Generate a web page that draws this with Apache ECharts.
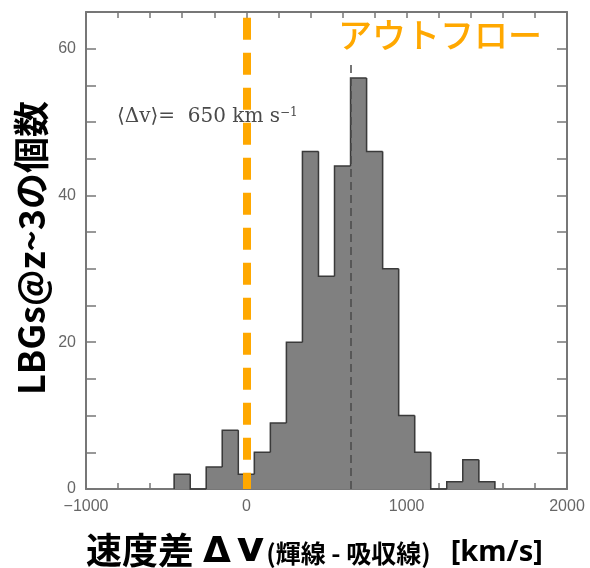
<!DOCTYPE html>
<html><head><meta charset="utf-8">
<script src="https://cdn.jsdelivr.net/npm/echarts@6/dist/echarts.min.js"></script>
<style>html,body{margin:0;padding:0;background:#fff}#c{width:590px;height:568px}</style>
</head><body><div id="c"></div>
<script>
// ---- data ----
const binCenters = [-400,-300,-200,-100,0,100,200,300,400,500,600,700,800,900,1000,1100,1200,1300,1400,1500];
const counts     = [2,0,3,8,2,5,9,20,46,29,44,56,46,30,10,5,0,1,4,1];
const binWidth = 100;
const meanValue = 650;
const meanLineTop = 58;
const zeroLineX = 0;
const xTickLabels = [-1000, 0, 1000, 2000];
const yTickLabels = [0, 20, 40, 60];
const yAxisTitle = 'LBGs@z~3の個数';
const xAxisTitleMain = '速度差';
const xAxisTitleDelta = 'Δ';
const xAxisTitleV = 'v';
const xAxisTitleSub = '(輝線 - 吸収線)';
const xAxisTitleUnit = '[km/s]';
const outflowLabel = 'アウトフロー';

const chart = echarts.init(document.getElementById('c'), null, {renderer:'canvas'});
const frame = '#777';
const labelFont = {color:'#666', fontSize:16, fontFamily:'Liberation Sans'};

function fmtX(v){ return xTickLabels.indexOf(v) >= 0 ? String(v).replace('-', '\u2212') : ''; }
function fmtY(v){ return yTickLabels.indexOf(v) >= 0 ? String(v) : ''; }

const histData = binCenters.map((c,i)=>[c, counts[i]]);

chart.setOption({
  animation:false,
  grid:{left:86, right:23, top:12, bottom:79, show:false},
  xAxis:[
    {type:'value', min:-1000, max:2000, interval:200, position:'bottom',
     axisLine:{show:true, onZero:false, lineStyle:{color:frame, width:2}},
     axisTick:{show:true, inside:true, length:6, lineStyle:{color:frame, width:1.5}},
     axisLabel:Object.assign({formatter:fmtX, margin:10, showMinLabel:true, showMaxLabel:true}, labelFont),
     splitLine:{show:false}},
    {type:'value', min:-1000, max:2000, interval:200, position:'top',
     axisLine:{show:true, onZero:false, lineStyle:{color:frame, width:2}},
     axisTick:{show:true, inside:true, length:6, lineStyle:{color:frame, width:1.5}},
     axisLabel:{show:false}, splitLine:{show:false}}
  ],
  yAxis:[
    {type:'value', min:0, max:65, interval:5, position:'left',
     axisLine:{show:true, onZero:false, lineStyle:{color:frame, width:2}},
     axisTick:{show:true, inside:true, length:10, lineStyle:{color:frame, width:1.5}},
     axisLabel:Object.assign({formatter:fmtY, margin:10}, labelFont),
     splitLine:{show:false}},
    {type:'value', min:0, max:65, interval:5, position:'right',
     axisLine:{show:true, onZero:false, lineStyle:{color:frame, width:2}},
     axisTick:{show:true, inside:true, length:10, lineStyle:{color:frame, width:1.5}},
     axisLabel:{show:false}, splitLine:{show:false}}
  ],
  series:[
    {type:'custom', xAxisIndex:0, yAxisIndex:0, data:histData, z:2,
     renderItem:function(params, api){
       const i = params.dataIndex;
       const c = api.value(0), v = api.value(1);
       const prev = i>0 ? counts[i-1] : 0;
       const p0 = api.coord([c-binWidth/2, 0]);
       const p1 = api.coord([c+binWidth/2, v]);
       const pPrev = api.coord([c-binWidth/2, prev]);
       const pts = [[p0[0], pPrev[1]], [p0[0], p1[1]], [p1[0], p1[1]]];
       if (i === counts.length-1) pts.push([p1[0], p0[1]]);
       const kids = [];
       if (v > 0) kids.push({type:'rect', shape:{x:p0[0]-0.5, y:p1[1], width:p1[0]-p0[0]+1, height:p0[1]-p1[1]},
          style:{fill:'#808080'}, z2:0});
       kids.push({type:'polyline', shape:{points:pts}, style:{stroke:'#3a3a3a', lineWidth:1.5, fill:null}, z2:5});
       return {type:'group', children:kids};
     }},
    {type:'line', data:[], z:5,
     markLine:{silent:true, symbol:['none','none'], label:{show:false},
       data:[
         [{coord:[meanValue, 0], lineStyle:{color:'#4a4a4a', width:1.5, type:[8,5]}},
          {coord:[meanValue, meanLineTop]}],
         [{coord:[zeroLineX, 64.2], lineStyle:{color:'#FFA800', width:8, type:[22,13]}},
          {coord:[zeroLineX, 0]}]
       ]}}
  ],
  graphic:[
    {type:'text', left:338, top:18, z:10,
     style:{text:outflowLabel, fill:'#FFA800', font:'500 34px "Noto Sans CJK JP"'}},
    {type:'text', x:117, y:117, z:10,
     style:{text:'{a|\u27E8\u0394v\u27E9=  ' + meanValue + ' km s}{s|\u22121}', verticalAlign:'middle',
       rich:{a:{fill:'#4a4a4a', font:'20px "DejaVu Serif"'}, s:{fill:'#4a4a4a', font:'12px "DejaVu Serif"', verticalAlign:'top', padding:[0,0,8,0]}}}},
    {type:'text', x:31, y:248, rotation:Math.PI/2, z:10,
     style:{text:yAxisTitle, fill:'#000', font:'bold 36px "Noto Sans CJK JP"', align:'center', verticalAlign:'middle'}},
    {type:'text', left:86, top:529, z:10,
     style:{text:'{a|'+xAxisTitleMain+'}{d|'+xAxisTitleDelta+'}{v|'+xAxisTitleV+'}{b|'+xAxisTitleSub+'}{u|'+xAxisTitleUnit+'}',
       rich:{a:{fill:'#000', font:'bold 36px "Noto Sans CJK JP"', verticalAlign:'bottom', padding:[0,0,3,0]},
             d:{fill:'#000', font:'bold 36px "DejaVu Sans"', verticalAlign:'bottom', padding:[0,6,0,9]},
             v:{fill:'#000', font:'bold 42px "DejaVu Sans"', verticalAlign:'bottom', padding:[0,2,0,0]},
             b:{fill:'#000', font:'bold 25px "Noto Sans CJK JP"', verticalAlign:'bottom', padding:[0,0,5,0]},
             u:{fill:'#000', font:'bold 29px "Noto Sans"', verticalAlign:'bottom', padding:[0,0,4,20]}}}}
  ]
});
</script></body></html>
